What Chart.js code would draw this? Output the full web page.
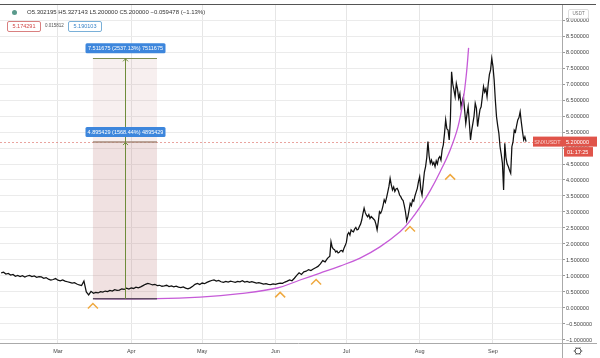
<!DOCTYPE html>
<html><head><meta charset="utf-8">
<script src="https://cdn.jsdelivr.net/npm/chart.js@4/dist/chart.umd.min.js"></script>
<style>
html,body{margin:0;padding:0;background:#fff;}
#wrap{position:relative;width:600px;height:358px;overflow:hidden;}
canvas{display:block;}
.t{position:absolute;font-family:"Liberation Sans",Arial,sans-serif;white-space:nowrap;line-height:1;}
</style></head><body>
<div id="wrap">
<canvas id="c" width="600" height="358"></canvas>
<div class="t" style="left:12px;top:9.5px;width:5px;height:5px;border-radius:50%;background:#5a9a8c;"></div>
<div class="t" style="left:27px;top:9px;font-size:6px;color:#333;">O5.302195 H5.327143 L5.200000 C5.200000 −0.059478 (−1.13%)</div>
<div class="t" style="left:7px;top:21px;width:32px;height:9px;border:1px solid #d98080;border-radius:2px;font-size:5.5px;color:#d04848;text-align:center;line-height:9px;">5.174291</div>
<div class="t" style="left:45px;top:24px;font-size:4.5px;color:#555;">0.015812</div>
<div class="t" style="left:68px;top:21px;width:32px;height:9px;border:1px solid #7ab0d8;border-radius:2px;font-size:5.5px;color:#3a84c8;text-align:center;line-height:9px;">5.190103</div>
<div class="t" style="left:568px;top:9px;width:19px;height:8px;border:1px solid #ddd;border-radius:2px;font-size:4.5px;color:#777;text-align:center;line-height:8px;">USDT</div>
</div>
<script>
// ---- data ----
const monthTicks = [60, 91, 121, 152, 182, 213, 244];
const monthLabels = ['Mar', 'Apr', 'May', 'Jun', 'Jul', 'Aug', 'Sep'];
const yTicks = [-1, -0.5, 0, 0.5, 1, 1.5, 2, 2.5, 3, 3.5, 4, 4.5, 5, 5.5, 6, 6.5, 7, 7.5, 8, 8.5, 9];

const days = [
 36,37,38,39,40,41,42,43,44,45,46,47,48,49,50,51,52,53,54,55,
 56,57,58,59,60,61,62,63,64,65,66,67,68,69,70,71,72,73,74,75,
 76,77,78,79,80,81,82,83,84,85,86,87,88,89,90,91,92,93,94,95,
 96,97,98,99,100,101,102,103,104,105,106,107,108,109,110,111,112,113,114,115,
 116,117,118,119,120,121,122,123,124,125,126,127,128,129,130,131,132,133,134,135,
 136,137,138,139,140,141,142,143,144,145,146,147,148,149,150,151,152,153,154,155,
 156,157,158,159,160,161,162,163,164,165,166,167,168,169,170,171,172,173,174,
 175,175.5,176,176.5,177,177.5,178,178.5,179,179.5,180,180.5,181,181.5,182,182.5,183,183.5,184,184.5,
 185,185.5,186,186.5,187,187.5,188,188.5,189,189.5,190,190.5,191,191.5,192,192.5,193,193.5,194,194.5,
 195,195.5,196,196.5,197,197.5,198,198.5,199,199.5,200,200.5,201,201.5,202,202.5,203,203.5,204,204.5,
 205,205.5,206,206.5,207,207.5,208,208.5,209,209.5,210,210.5,211,211.5,212,212.5,213,213.5,214,214.5,
 215,215.5,216,216.5,217,217.5,218,218.5,219,219.5,220,220.5,221,221.5,222,222.5,223,223.5,224,224.5,
 225,225.5,226,226.5,227,227.5,228,228.5,229,229.5,230,230.5,231,231.5,232,232.5,233,233.5,234,234.5,
 235,235.5,236,236.5,237,237.5,238,238.5,239,239.5,240,240.5,241,241.5,242,242.5,243,243.5,244,244.5,
 245,245.5,246,246.5,247,247.5,248,248.5,249,249.5,250,250.5,251,251.5,252,252.5,253,253.5,254,254.5,
 255,255.5,256,256.5,257,257.5,258
];
const prices = [
 1.10,1.12,1.06,1.08,1.03,1.05,0.99,1.02,0.98,1.01,0.97,1.00,1.02,0.98,1.00,0.96,0.98,0.97,0.93,0.95,
 0.90,0.87,0.89,0.92,0.87,0.85,0.88,0.84,0.82,0.80,0.78,0.79,0.75,0.72,0.70,0.84,0.50,0.41,0.52,0.46,
 0.49,0.47,0.51,0.50,0.53,0.51,0.55,0.53,0.57,0.55,0.56,0.60,0.58,0.62,0.59,0.63,0.61,0.65,0.63,0.66,
 0.70,0.74,0.77,0.75,0.72,0.74,0.70,0.71,0.68,0.69,0.71,0.67,0.69,0.66,0.68,0.65,0.64,0.66,0.62,0.60,
 0.63,0.68,0.74,0.77,0.73,0.78,0.76,0.80,0.83,0.86,0.88,0.84,0.86,0.82,0.80,0.83,0.81,0.84,0.82,0.80,
 0.83,0.82,0.85,0.81,0.83,0.80,0.82,0.80,0.78,0.79,0.77,0.75,0.76,0.74,0.73,0.75,0.74,0.76,0.78,0.77,
 0.81,0.84,0.88,0.85,0.93,1.02,1.10,1.05,1.13,1.15,1.20,1.17,1.22,1.26,1.30,1.38,1.48,1.44,1.55,
 1.62,2.07,1.90,1.84,1.82,1.75,1.78,1.72,1.74,1.79,1.80,1.76,1.87,1.95,2.05,2.30,2.36,2.28,2.44,2.40,
 2.38,2.47,2.52,2.44,2.46,2.55,2.62,2.75,2.95,3.12,2.98,2.90,2.85,2.92,2.80,2.86,2.82,2.78,2.74,2.62,
 2.44,2.70,3.01,2.96,3.05,3.20,3.38,3.30,3.45,3.62,3.80,4.05,3.85,3.69,3.78,3.64,3.72,3.74,3.66,3.53,
 3.48,3.40,3.36,3.20,3.00,2.72,2.85,3.05,3.27,3.20,3.38,3.34,3.50,3.62,3.74,3.95,4.10,3.70,3.53,3.90,
 4.25,4.42,4.70,5.20,4.75,4.52,4.62,4.48,4.55,4.42,4.60,4.50,4.68,4.73,4.62,4.94,5.10,5.45,5.88,5.60,
 5.56,5.25,5.90,7.38,7.00,6.81,6.60,7.02,6.85,6.55,6.70,6.29,6.45,6.60,6.20,5.77,6.05,6.29,5.80,5.25,
 5.55,5.77,6.00,6.40,6.25,5.67,5.95,6.20,6.29,6.60,6.92,6.75,6.85,6.60,7.00,7.30,7.44,7.80,7.55,7.13,
 6.50,5.98,5.70,5.46,5.04,4.80,4.52,3.69,5.15,4.70,4.50,4.42,4.30,4.21,5.04,5.20,5.56,5.50,5.70,5.88,
 5.95,6.13,5.80,5.51,5.25,5.35,5.20
];

const curveDays   = [75.7, 101.9, 120.1, 137.0, 152.7, 162.4, 170.9, 179.3, 187.8, 196.2, 204.7, 208.9, 213.2, 217.4, 221.6, 225.9, 229.2, 231.4, 232.8, 233.7];
const curveValues = [0.29, 0.29, 0.34, 0.45, 0.625, 0.875, 1.09, 1.31, 1.56, 1.91, 2.38, 2.72, 3.16, 3.66, 4.25, 4.94, 5.66, 6.50, 7.34, 8.13];

const chevronDays   = [74.8, 154.0, 169.2, 208.9, 225.9];
const chevronValues = [0.06, 0.41, 0.81, 2.47, 4.09];

const measStart = 74.8, measEnd = 101.9, measLineDay = 88.4, measBase = 0.29;
const measGains = [7.511675, 4.895429];
const measTexts = ['7.511675 (2537.13%) 7511675', '4.895429 (1568.44%) 4895429'];
const lastPrice = 5.2;
const symbolName = 'SNXUSDT';
const countdown = '01:17:25';

// ---- drawing helpers ----
const FONT = '"Liberation Sans", Arial, sans-serif';

function chevron(ctx, cx, cy, color) {
  ctx.strokeStyle = color; ctx.lineWidth = 1.5;
  ctx.beginPath(); ctx.moveTo(cx - 5, cy + 2.5); ctx.lineTo(cx, cy - 2.5); ctx.lineTo(cx + 5, cy + 2.5); ctx.stroke();
}

const annot = {
  id: 'annot',
  beforeDatasetsDraw(chart) {
    const {ctx, scales: {x, y}, chartArea: a} = chart;
    ctx.save();
    const x0 = x.getPixelForValue(measStart), x1 = x.getPixelForValue(measEnd);
    const yb = y.getPixelForValue(measBase);
    const yt = y.getPixelForValue(measBase + measGains[0]);
    const ym = y.getPixelForValue(measBase + measGains[1]);
    ctx.fillStyle = 'rgba(190,120,120,0.12)';
    ctx.fillRect(x0, yt, x1 - x0, yb - yt);
    ctx.fillRect(x0, ym, x1 - x0, yb - ym);
    const yp = Math.round(y.getPixelForValue(lastPrice)) + 0.5;
    ctx.strokeStyle = 'rgba(215,90,80,0.55)'; ctx.lineWidth = 1; ctx.setLineDash([2, 2]);
    ctx.beginPath(); ctx.moveTo(a.left, yp); ctx.lineTo(a.right, yp); ctx.stroke();
    ctx.setLineDash([]);
    ctx.restore();
  },
  afterDatasetsDraw(chart) {
    const {ctx, scales: {x, y}} = chart;
    ctx.save();
    const x0 = x.getPixelForValue(measStart), x1 = x.getPixelForValue(measEnd);
    const xm = x.getPixelForValue(measLineDay);
    const yb = y.getPixelForValue(measBase);
    const yt = y.getPixelForValue(measBase + measGains[0]);
    const ym = y.getPixelForValue(measBase + measGains[1]);
    ctx.lineWidth = 1;
    ctx.strokeStyle = '#7f9050';
    ctx.beginPath(); ctx.moveTo(x0, Math.round(yt) + 0.5); ctx.lineTo(x1, Math.round(yt) + 0.5); ctx.stroke();
    ctx.strokeStyle = '#a48a7a'; ctx.lineWidth = 1.5;
    ctx.beginPath(); ctx.moveTo(x0, ym); ctx.lineTo(x1, ym); ctx.stroke();
    ctx.strokeStyle = '#5e4a62'; ctx.lineWidth = 1.5;
    ctx.beginPath(); ctx.moveTo(x0, yb); ctx.lineTo(x1, yb); ctx.stroke();
    ctx.strokeStyle = '#6f8c3a'; ctx.lineWidth = 1;
    const xv = Math.round(xm) + 0.5;
    ctx.beginPath(); ctx.moveTo(xv, yb); ctx.lineTo(xv, yt); ctx.stroke();
    [yt, ym].forEach(yy => {
      ctx.beginPath(); ctx.moveTo(xv - 2.5, yy + 3); ctx.lineTo(xv, yy + 0.5); ctx.lineTo(xv + 2.5, yy + 3); ctx.stroke();
    });
    ctx.font = '5.5px ' + FONT;
    ctx.textAlign = 'center'; ctx.textBaseline = 'middle';
    [yt, ym].forEach((yy, i) => {
      const w = 80, h = 10, bx = xv - w / 2, by = yy - 5 - h;
      ctx.fillStyle = '#3d86dc';
      ctx.beginPath(); ctx.roundRect(bx, by, w, h, 1.5); ctx.fill();
      ctx.fillStyle = '#fff';
      ctx.fillText(measTexts[i], xv, by + h / 2 + 0.5);
    });
    chevronDays.forEach((d, i) => chevron(ctx, x.getPixelForValue(d), y.getPixelForValue(chevronValues[i]), '#efa940'));
    ctx.restore();
  },
  afterDraw(chart) {
    const {ctx, scales: {x, y}, chartArea: a} = chart;
    ctx.save();
    ctx.strokeStyle = '#555'; ctx.lineWidth = 1;
    ctx.beginPath(); ctx.moveTo(0, 4.5); ctx.lineTo(596, 4.5); ctx.stroke();
    ctx.strokeStyle = '#aaa';
    ctx.beginPath(); ctx.moveTo(a.right + 0.5, 5); ctx.lineTo(a.right + 0.5, 358); ctx.stroke();
    ctx.beginPath(); ctx.moveTo(0, a.bottom + 0.5); ctx.lineTo(597, a.bottom + 0.5); ctx.stroke();
    const yp = y.getPixelForValue(lastPrice);
    ctx.fillStyle = '#e0544a';
    ctx.fillRect(533, yp - 5, 64, 10);
    ctx.fillRect(564, yp + 5.5, 29, 9.5);
    ctx.font = '5.5px ' + FONT; ctx.textBaseline = 'middle';
    ctx.fillStyle = '#f8d0cc'; ctx.textAlign = 'center';
    ctx.fillText(symbolName, 547.5, yp + 0.5);
    ctx.fillStyle = '#fff'; ctx.textAlign = 'left';
    ctx.fillText(lastPrice.toFixed(6), 566, yp + 0.5);
    ctx.fillText(countdown, 567, yp + 10.5);
    ctx.strokeStyle = '#555'; ctx.lineWidth = 1;
    ctx.beginPath(); ctx.arc(578, 351, 3, 0, Math.PI * 2); ctx.stroke();
    for (let k = 0; k < 6; k++) {
      const ang = k * Math.PI / 3;
      ctx.beginPath(); ctx.moveTo(578 + Math.cos(ang) * 3, 351 + Math.sin(ang) * 3);
      ctx.lineTo(578 + Math.cos(ang) * 4.3, 351 + Math.sin(ang) * 4.3); ctx.stroke();
    }
    ctx.restore();
  }
};

new Chart(document.getElementById('c').getContext('2d'), {
  type: 'line',
  data: {
    datasets: [
      { data: curveDays.map((d, i) => ({x: d, y: curveValues[i]})), borderColor: '#c65bd8', borderWidth: 1.3, pointRadius: 0, tension: 0.4, fill: false },
      { data: days.map((d, i) => ({x: d, y: prices[i]})), borderColor: '#111', borderWidth: 1.25, pointRadius: 0, tension: 0, fill: false }
    ]
  },
  options: {
    responsive: false, animation: false, devicePixelRatio: 1,
    layout: { padding: { top: 5, left: 0, right: 0, bottom: 0 } },
    plugins: { legend: { display: false }, tooltip: { enabled: false } },
    scales: {
      x: {
        type: 'linear', min: 35.5, max: 273.2,
        afterBuildTicks: s => { s.ticks = monthTicks.map(v => ({value: v})); },
        afterFit: s => { s.height = 15; },
        ticks: { autoSkip: false, maxRotation: 0, padding: 5, color: '#444', font: { size: 5.5, family: FONT },
                 callback: v => monthLabels[monthTicks.indexOf(v)] },
        grid: { color: '#e6e6e6', drawTicks: false },
        border: { display: false }
      },
      y: {
        type: 'linear', position: 'right', min: -1.094, max: 9.469,
        afterBuildTicks: s => { s.ticks = yTicks.map(v => ({value: v})); },
        afterFit: s => { s.width = 38; },
        ticks: { padding: 1, color: '#444', font: { size: 5.5, family: FONT },
                 callback: v => (v < 0 ? '−' : '') + Math.abs(v).toFixed(6) },
        grid: { color: '#ebebeb', drawTicks: true, tickLength: 3, tickColor: '#999' },
        border: { display: false }
      }
    }
  },
  plugins: [annot]
});
</script>
</body></html>
